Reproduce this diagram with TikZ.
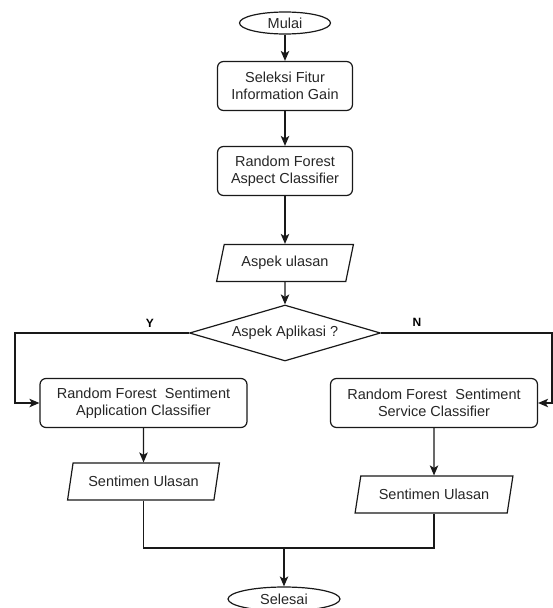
\documentclass[tikz,border=0pt]{standalone}
\usepackage{fontspec}
\setmainfont{Liberation Sans}
\usetikzlibrary{arrows.meta,shapes.geometric}
\tikzset{
	every node/.style={font=\fontsize{14.5}{17}\selectfont, align=center, text=black!85},
	flow/.style={line width=1.2pt, draw=black!90},
	arr/.style={flow, -{Stealth[length=10pt,width=8.5pt,inset=2.5pt]}},
	proc/.style={draw, flow, rounded corners=6pt, minimum width=#1, minimum height=49pt, inner sep=0pt},
	io/.style={draw, flow, trapezium, trapezium left angle=68, trapezium right angle=112, trapezium stretches=true, minimum width=#1, minimum height=37pt, inner sep=0pt},
	term/.style={draw, flow, ellipse, minimum width=#1, minimum height=22pt, inner sep=0pt},
	yn/.style={font=\bfseries\fontsize{12}{14}\selectfont, text=black}
}

\begin{document}
\begin{tikzpicture}[x=1pt, y=-1pt]
			%%%%% START %%%%%
			\useasboundingbox (0, 0) rectangle (553, 608);
			
			\node[term=91pt] (mulai) at (285, 23) {Mulai};
			\node[proc=135pt] (seleksi) at (285, 86) {Seleksi Fitur\\Information Gain};
			\node[proc=135pt] (rfaspek) at (285, 171) {Random Forest\\Aspect Classifier};
			\node[io=137pt] (aspek) at (285, 263) {Aspek ulasan};
			\node[draw, flow, diamond, aspect=3.4, minimum width=191pt, minimum height=56pt, inner sep=0pt] (cek) at (285, 333) {Aspek Aplikasi ?};
			
			\node[proc=207pt] (rfapp) at (143.5, 403) {Random Forest~ Sentiment\\Application Classifier};
			\node[proc=207pt] (rfsvc) at (434, 403) {Random Forest~ Sentiment\\Service Classifier};
			\node[io=152pt] (sentapp) at (143.5, 481.5) {Sentimen Ulasan};
			\node[io=158pt] (sentsvc) at (434, 494.5) {Sentimen Ulasan};
			
			\node[term=112pt, minimum height=24pt] (selesai) at (284, 599) {Selesai};
			
			\coordinate (ybelok) at (15, 333);
			\coordinate (nbelok) at (552, 333);
			\coordinate (gabung) at (284, 548);
			
			\draw[arr] (mulai) -- (seleksi);
			\draw[arr] (seleksi) -- (rfaspek);
			\draw[arr] (rfaspek) -- (aspek);
			\draw[arr] (aspek) -- (cek);
			
			\draw[arr] (cek.west) -- (ybelok) |- (rfapp.west);
			\node[yn] (ylabel) at (150, 323) {Y};
			\draw[arr] (cek.east) -- (nbelok) |- (rfsvc.east);
			\node[yn] (nlabel) at (417, 322) {N};
			
			\draw[arr] (rfapp) -- (sentapp);
			\draw[arr] (rfsvc) -- (sentsvc);
			
			\draw[flow] (sentapp.south) |- (gabung) -| (sentsvc.south);
			\draw[arr] (gabung) -- (selesai.north);
			%%%%% END %%%%%
\end{tikzpicture}
\end{document}
